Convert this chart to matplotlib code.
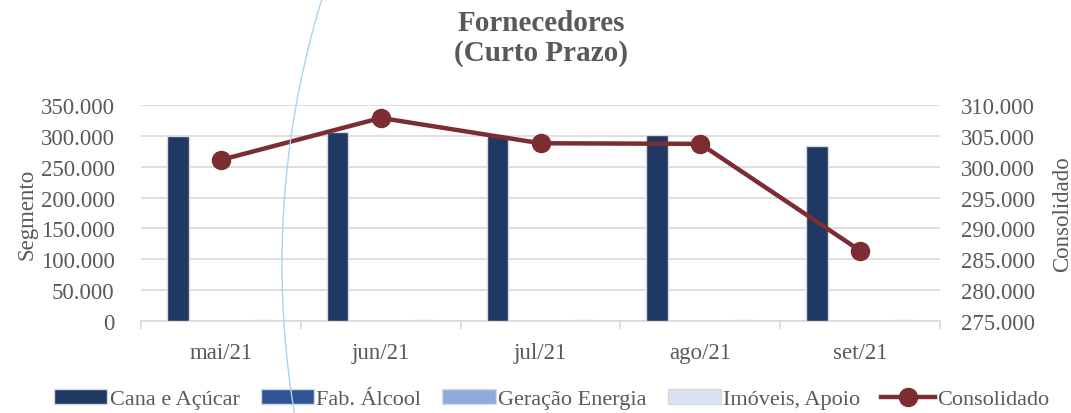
"""Fornecedores (Curto Prazo): segment bars and consolidated line"""
import matplotlib
matplotlib.use("Agg")
import matplotlib.pyplot as plt
import matplotlib.patches as mpatches
import matplotlib.ticker as mticker
import numpy as np

months = ["mai/21", "jun/21", "jul/21", "ago/21", "set/21"]
segment_names = ["Cana e Açúcar", "Fab. Álcool", "Geração Energia", "Imóveis, Apoio"]
cana = [299000, 305500, 301500, 301500, 284000]
fab_alcool = [0, 0, 0, 0, 0]
geracao = [300, 300, 300, 300, 300]
imoveis = [900, 900, 900, 900, 900]
consolidado = [301100, 307900, 303800, 303700, 286400]

segment_colors = ["#1f3864", "#2f5597", "#8faadc", "#dae3f3"]
LINE_COLOR = "#7b2d31"
TEXT_COLOR = "#595959"
GRID_COLOR = "#d9d9d9"
FONT = "Liberation Serif"
TICK_SIZE = 16.5


def br_thousands(v, pos=None):
    return f"{v:,.0f}".replace(",", ".")


def plot_fornecedores():
    plt.rcParams["font.family"] = FONT
    fig = plt.figure(figsize=(10.71, 4.14), dpi=100)
    ax = fig.add_axes([0.1317, 0.2222, 0.7460, 0.5218])

    x = np.arange(len(months))
    width = 0.135
    step = 0.18
    for i, (vals, color) in enumerate(zip([cana, fab_alcool, geracao, imoveis],
                                          segment_colors)):
        ax.bar(x + (i - 1.5) * step, vals, width, color=color,
               edgecolor=GRID_COLOR, linewidth=1.0, zorder=3,
               label=segment_names[i])

    ax.set_xlim(-0.5, len(months) - 0.5)
    ax.set_ylim(0, 350000)
    ax.yaxis.set_major_locator(mticker.MultipleLocator(50000))
    ax.yaxis.set_major_formatter(mticker.FuncFormatter(br_thousands))
    ax.grid(axis="y", color=GRID_COLOR, lw=1.2, zorder=0)
    ax.set_axisbelow(True)
    for s in ["top", "right", "left"]:
        ax.spines[s].set_visible(False)
    ax.spines["bottom"].set_color(GRID_COLOR)
    ax.spines["bottom"].set_linewidth(1.2)
    ax.set_xticks(x)
    ax.set_xticklabels(months)
    ax.set_xticks(np.arange(-0.5, len(months)), minor=True)
    ax.tick_params(axis="x", which="major", length=0, pad=15,
                   labelsize=TICK_SIZE, labelcolor=TEXT_COLOR)
    ax.tick_params(axis="x", which="minor", length=6, color=GRID_COLOR, width=1.2)
    ax.tick_params(axis="y", length=0, pad=19, labelsize=TICK_SIZE,
                   labelcolor=TEXT_COLOR)
    ax.set_ylabel("Segmento", fontsize=TICK_SIZE, color=TEXT_COLOR, labelpad=2)

    ax2 = ax.twinx()
    ax2.plot(x, consolidado, color=LINE_COLOR, lw=3.2, marker="o",
             markersize=13, zorder=5, label="Consolidado")
    ax2.set_ylim(275000, 310000)
    ax2.yaxis.set_major_locator(mticker.MultipleLocator(5000))
    ax2.yaxis.set_major_formatter(mticker.FuncFormatter(br_thousands))
    for s in ax2.spines.values():
        s.set_visible(False)
    ax2.tick_params(axis="y", length=0, pad=15, labelsize=TICK_SIZE,
                    labelcolor=TEXT_COLOR)
    ax2.set_ylabel("Consolidado", fontsize=TICK_SIZE, color=TEXT_COLOR, labelpad=12)

    fig.text(0.505, 0.907, "Fornecedores\n(Curto Prazo)", ha="center", va="center",
             fontsize=21, fontweight="bold", color=TEXT_COLOR, linespacing=1.15)

    handles, labels = ax.get_legend_handles_labels()
    h2, l2 = ax2.get_legend_handles_labels()
    fig.legend(handles + h2, labels + l2, loc="center", ncol=5,
               bbox_to_anchor=(0.515, 0.033), frameon=False, fontsize=16,
               labelcolor=TEXT_COLOR, handlelength=2.4, handleheight=0.65,
               handletextpad=0.1, columnspacing=0.95, borderpad=0)

    # thin light-blue arc crossing the picture
    r = 900.0
    cx, cy = 282 + r, 265
    fig.add_artist(mpatches.Ellipse((cx / 1071, 1 - cy / 414), 2 * r / 1071,
                                    2 * r / 414, transform=fig.transFigure,
                                    fill=False, ec="#a9d4ec", lw=1.0, zorder=10))

    fig.savefig("out.png", dpi=100)


if __name__ == "__main__":
    plot_fornecedores()
